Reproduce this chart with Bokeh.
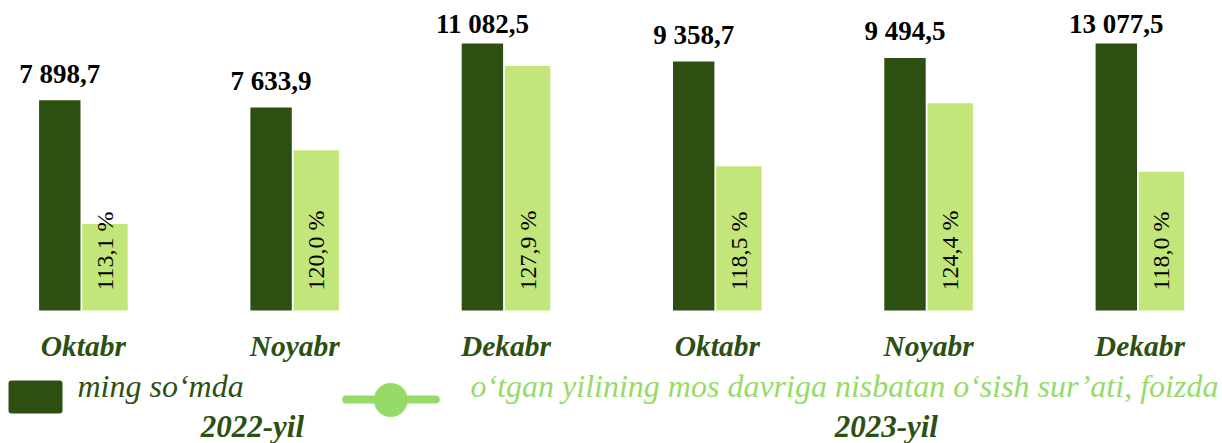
import numpy as np
from bokeh.plotting import figure
from bokeh.models import ColumnDataSource, Range1d, LabelSet, BoxAnnotation
from bokeh.embed import file_html
from bokeh.resources import INLINE

# ---- data ----
months = ["Oktabr", "Noyabr", "Dekabr", "Oktabr", "Noyabr", "Dekabr"]
years = ["2022-yil", "2023-yil"]
year_first_idx = [0, 3]
volume = [7898.7, 7633.9, 11082.5, 9358.7, 9494.5, 13077.5]   # ming so'mda
growth = [113.1, 120.0, 127.9, 118.5, 124.4, 118.0]           # foizda
legend_volume = "ming so\u2018mda"
legend_growth = "o\u2018tgan yilining mos davriga nisbatan o\u2018sish sur\u2019ati, foizda"

# ---- style / layout ----
DARK = "#2d5012"
LIGHT_BAR = "#c3e67a"
LIGHT = "#96db68"
SERIF = "Liberation Serif"

W, H = 1222, 443
PLOT_TOP, PLOT_BOTTOM = 43, 310          # pixel rows of the value axis (max / zero)
VOL_MAX = 10035                          # value-axis maximum (taller bars are cut there)
PCT_MIN, PCT_MAX = 105, 130              # percent-axis range
GROUP_PX, FIRST_GROUP_PX = 211.3, 82.9   # pixel pitch of the groups
DX_DARK, W_DARK = -0.1117, 0.196
DX_LIGHT, W_LIGHT = 0.1022, 0.215

vol_scale = (PLOT_BOTTOM - PLOT_TOP) / VOL_MAX
pct_scale = (PLOT_BOTTOM - PLOT_TOP) / (PCT_MAX - PCT_MIN)
x0 = -FIRST_GROUP_PX / GROUP_PX

def dx(px):   # pixel column -> x data
    return x0 + px / GROUP_PX

def dy(py):   # pixel row -> value data
    return (PLOT_BOTTOM - py) / vol_scale

p = figure(width=W, height=H, output_backend="svg", toolbar_location=None,
           x_range=Range1d(dx(0), dx(W)), y_range=Range1d(dy(H), dy(0)),
           x_axis_type=None, y_axis_type=None,
           min_border=0, min_border_left=0, min_border_right=0,
           min_border_top=0, min_border_bottom=0)
p.extra_y_ranges = {"pct": Range1d(PCT_MIN - (H - PLOT_BOTTOM) / pct_scale,
                                   PCT_MIN + PLOT_BOTTOM / pct_scale)}
p.grid.visible = False
p.outline_line_color = None
p.background_fill_color = "white"
p.border_fill_color = "white"

idx = np.arange(len(months))
fmt_vol = lambda v: f"{v:,.1f}".replace(",", " ").replace(".", ",")
fmt_pct = lambda v: f"{v:.1f}".replace(".", ",") + " %"

vol_shown = np.minimum(volume, VOL_MAX)   # bars are cut at the axis maximum

src = ColumnDataSource(dict(
    xc=idx.astype(float),
    xd=idx + DX_DARK,
    xl=idx + DX_LIGHT,
    vol=vol_shown,
    pct=growth,
    vol_lab=[fmt_vol(v) for v in volume],
    pct_lab=[fmt_pct(v) for v in growth],
    vol_lab_off=[17.5 if v <= VOL_MAX else 10.5 for v in volume],
    pct_base=[PCT_MIN] * len(growth),
    zero=[0] * len(volume),
    month=months,
))

p.vbar(x="xd", top="vol", bottom=0, width=W_DARK, source=src,
       fill_color=DARK, line_color=None)
p.vbar(x="xl", top="pct", bottom=PCT_MIN, width=W_LIGHT, source=src,
       y_range_name="pct", fill_color=LIGHT_BAR, line_color=None)

p.add_layout(LabelSet(x="xd", y="vol", text="vol_lab", y_offset="vol_lab_off",
                      source=src, text_align="center", text_baseline="alphabetic",
                      text_font=SERIF, text_font_style="bold", text_font_size="27px",
                      text_color="black"))
p.add_layout(LabelSet(x="xl", y="pct_base", text="pct_lab", y_range_name="pct",
                      y_offset=20, angle=np.pi / 2, source=src,
                      text_align="left", text_baseline="middle",
                      text_font=SERIF, text_font_size="24px", text_color="black"))
p.add_layout(LabelSet(x="xc", y="zero", text="month", y_offset=-45.5, source=src,
                      text_align="center", text_baseline="alphabetic",
                      text_font=SERIF, text_font_style="bold italic",
                      text_font_size="29.5px", text_color=DARK))

year_src = ColumnDataSource(dict(x=[i0 + 0.8 for i0 in year_first_idx],
                                 y=[dy(436)] * len(years), text=years))
p.add_layout(LabelSet(x="x", y="y", text="text", source=year_src,
                      text_align="center", text_baseline="alphabetic",
                      text_font=SERIF, text_font_style="bold italic",
                      text_font_size="31px", text_color=DARK))

# ---- legend ----
def box(l, r, t, b, color, radius):
    return BoxAnnotation(left=dx(l), right=dx(r), top=dy(t), bottom=dy(b),
                         fill_color=color, fill_alpha=1, line_color=None,
                         border_radius=radius)

p.add_layout(box(8, 62, 380, 413, DARK, 3))
p.add_layout(box(341.7, 439.3, 395, 403, LIGHT, 4))
p.add_layout(box(373.3, 407.3, 382.5, 416.5, LIGHT, 17))

leg_src = ColumnDataSource(dict(x=[dx(77), dx(470)], y=[dy(396)] * 2,
                                text=[legend_volume, legend_growth],
                                color=[DARK, LIGHT]))
p.add_layout(LabelSet(x="x", y="y", text="text", text_color="color", source=leg_src,
                      text_align="left", text_baseline="alphabetic",
                      text_font=SERIF, text_font_style="italic",
                      text_font_size="32px"))

open("out.html", "w").write(file_html(p, INLINE))
